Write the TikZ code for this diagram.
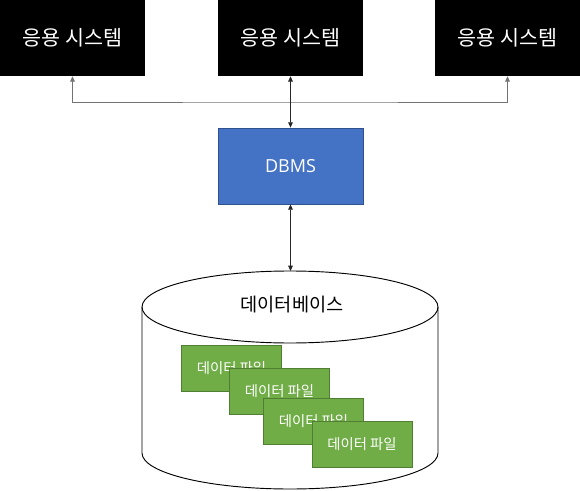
\documentclass[tikz,border=0pt]{standalone}
\usepackage{fontspec}
\usepackage{tikz}
\usepackage{xcolor}
\usetikzlibrary{arrows.meta}
\newfontfamily\kor{Noto Sans CJK KR}
\newfontfamily\lat{Open Sans}
\definecolor{dbblue}{HTML}{4472C4}
\definecolor{dbblueline}{HTML}{2F528F}
\definecolor{filegreen}{HTML}{70AD47}
\definecolor{filegreenline}{HTML}{507E32}

\begin{document}
\begin{tikzpicture}[x=0.75pt,y=-0.75pt,
    sysbox/.style={fill=black,inner sep=0pt,minimum width=108.75pt,minimum height=57pt,
      text=white,font=\kor\fontsize{15.5}{17}\selectfont},
    dbmsbox/.style={fill=dbblue,draw=dbblueline,line width=0.6pt,inner sep=0pt,
      minimum width=108.75pt,minimum height=57pt,text=white,font=\lat\fontsize{13.5}{15}\selectfont},
    filebox/.style={fill=filegreen,draw=filegreenline,line width=0.6pt,inner sep=0pt,
      minimum width=75pt,minimum height=34.5pt,text=white,font=\kor\fontsize{10.8}{12}\selectfont},
    link/.style={{Triangle[width=3.5pt,length=4pt]}-{Triangle[width=3.5pt,length=4pt]},line width=0.6pt}]
        \useasboundingbox (0,0) rectangle (580,491);
        % application systems
        \node[sysbox] (sys1) at (72.5,38) {응용 시스템};
        \node[sysbox] (sys2) at (290.5,38) {응용 시스템};
        \node[sysbox] (sys3) at (507.5,38) {응용 시스템};
        \node[dbmsbox] (dbms) at (290.5,166) {DBMS};
        \coordinate (bus) at (290.5,102);
        \coordinate (dbtop) at (290.5,271);
        \draw[link,gray!90!black] (sys1.south) |- (bus) -| (sys3.south);
        \draw[link,black!85] (sys2.south) -- (dbms.north);
        \draw[link,black!85] (dbms.south) -- (dbtop);
        % database cylinder
        \draw[line width=0.7pt] (142,307) -- (142,453)
          arc[start angle=180,end angle=360,x radius=111pt,y radius=27pt] -- (438,307);
        \draw[line width=0.7pt] (290,307) ellipse [x radius=111pt,y radius=27pt];
        \node[font=\kor\fontsize{14}{16}\selectfont] (dbname) at (292,305) {데이터베이스};
        % data files
        \node[filebox] (file1) at (231.5,368.5) {데이터 파일};
        \node[filebox] (file2) at (279.5,391) {데이터 파일};
        \node[filebox] (file3) at (313.5,421.5) {데이터 파일};
        \node[filebox] (file4) at (362,444.5) {데이터 파일};
      \end{tikzpicture}
\end{document}
